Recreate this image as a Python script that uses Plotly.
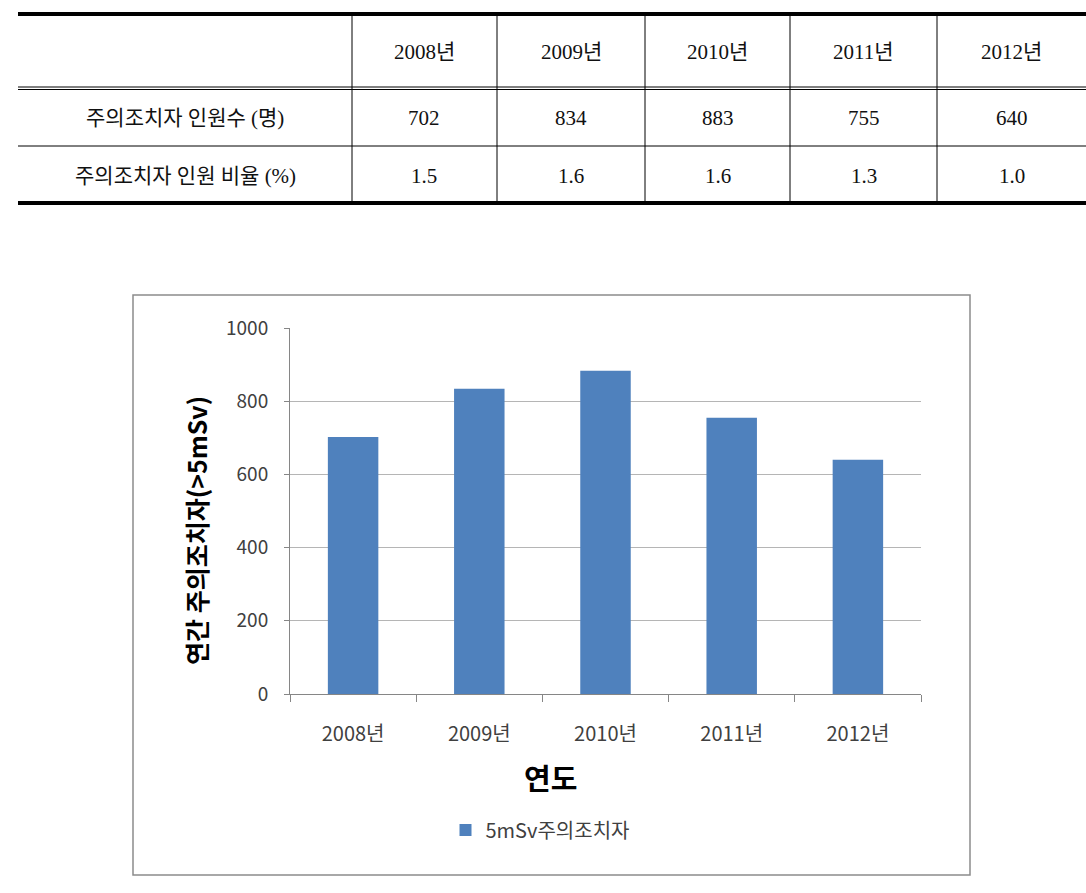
import plotly.graph_objects as go

# ---- data ----
years = ["2008년", "2009년", "2010년", "2011년", "2012년"]
counts = [702, 834, 883, 755, 640]
ratios = [1.5, 1.6, 1.6, 1.3, 1.0]
row_labels = ["주의조치자 인원수 (명)", "주의조치자 인원 비율 (%)"]
series_name = "5mSv주의조치자"
y_title = "연간 주의조치자(>5mSv)"
x_title = "연도"
y_ticks = [0, 200, 400, 600, 800, 1000]

W, H = 1086, 893
def px(x):
    return x / W
def py(y):
    return 1 - y / H

KFONT = "Noto Sans CJK KR"
TFONT = "Liberation Serif, Noto Sans CJK KR"

fig = go.Figure()
fig.add_trace(go.Bar(
    x=years, y=counts, name=series_name,
    marker=dict(color="#4F81BD", line=dict(width=0)),
    showlegend=True,
))

shapes = []
annotations = []

# ---- table ----
col_edges = [18, 352, 497, 645, 790, 937, 1086]
row_centers = [52, 118, 176]
table_rows = [years,
              [str(v) for v in counts],
              ["%.1f" % v for v in ratios]]
first_col = [""] + row_labels
for r, yc in enumerate(row_centers):
    annotations.append(dict(x=px((col_edges[0] + col_edges[1]) / 2), y=py(yc),
                            xref="paper", yref="paper", text=first_col[r],
                            showarrow=False, font=dict(family=TFONT, size=21, color="#111"),
                            xanchor="center", yanchor="middle"))
    for c, txt in enumerate(table_rows[r]):
        xc = (col_edges[c + 1] + col_edges[c + 2]) / 2
        annotations.append(dict(x=px(xc), y=py(yc), xref="paper", yref="paper",
                                text=txt, showarrow=False,
                                font=dict(family=TFONT, size=21, color="#111"),
                                xanchor="center", yanchor="middle"))

def hline(y, w):
    shapes.append(dict(type="line", xref="paper", yref="paper",
                       x0=px(col_edges[0]), x1=px(col_edges[-1]), y0=py(y), y1=py(y),
                       line=dict(color="black", width=w)))
hline(14, 4)
hline(87, 1)
hline(89.5, 1)
hline(146, 1)
hline(203, 4)
for xe in col_edges[1:-1]:
    shapes.append(dict(type="line", xref="paper", yref="paper",
                       x0=px(xe), x1=px(xe), y0=py(16), y1=py(201),
                       line=dict(color="black", width=1)))

# ---- chart frame ----
shapes.append(dict(type="rect", xref="paper", yref="paper",
                   x0=px(133), x1=px(970), y0=py(295), y1=py(875),
                   line=dict(color="#8C8C8C", width=1.5), layer="below"))

# ---- axis titles ----
annotations.append(dict(x=px(550), y=py(777), xref="paper", yref="paper",
                        text="<b>%s</b>" % x_title, showarrow=False,
                        font=dict(family=KFONT, size=29, color="#000"),
                        xanchor="center", yanchor="middle"))
annotations.append(dict(x=px(196), y=py(531), xref="paper", yref="paper",
                        text="<b>%s</b>" % y_title, showarrow=False, textangle=-90,
                        font=dict(family=KFONT, size=25, color="#000"),
                        xanchor="center", yanchor="middle"))

fig.update_layout(
    width=W, height=H,
    margin=dict(l=0, r=0, t=0, b=0, pad=0, autoexpand=False),
    paper_bgcolor="white", plot_bgcolor="white",
    bargap=0.6,
    font=dict(family=KFONT),
    xaxis=dict(
        domain=[px(290), px(921)],
        type="category", automargin=False,
        showline=True, linecolor="#868686", linewidth=1,
        ticks="outside", tickson="boundaries", ticklen=7, tickcolor="#868686",
        tickfont=dict(family=KFONT, size=20, color="#404040"),
        ticklabelstandoff=22,
        showgrid=False, zeroline=False,
    ),
    yaxis=dict(
        domain=[py(694), py(328)],
        range=[0, 1000], automargin=False,
        tickvals=y_ticks,
        showline=True, linecolor="#868686", linewidth=1,
        ticks="outside", ticklen=5, tickcolor="#868686",
        tickfont=dict(family=KFONT, size=19, color="#404040"),
        ticklabelstandoff=12,
        showgrid=True, gridcolor="#B5B5B5", gridwidth=1,
        zeroline=False,
    ),
    legend=dict(orientation="h", x=px(540), y=py(830),
                xanchor="center", yanchor="middle",
                font=dict(family=KFONT, size=20, color="#404040"),
                bgcolor="rgba(0,0,0,0)"),
    shapes=shapes,
    annotations=annotations,
)

fig.write_html("out.html")
